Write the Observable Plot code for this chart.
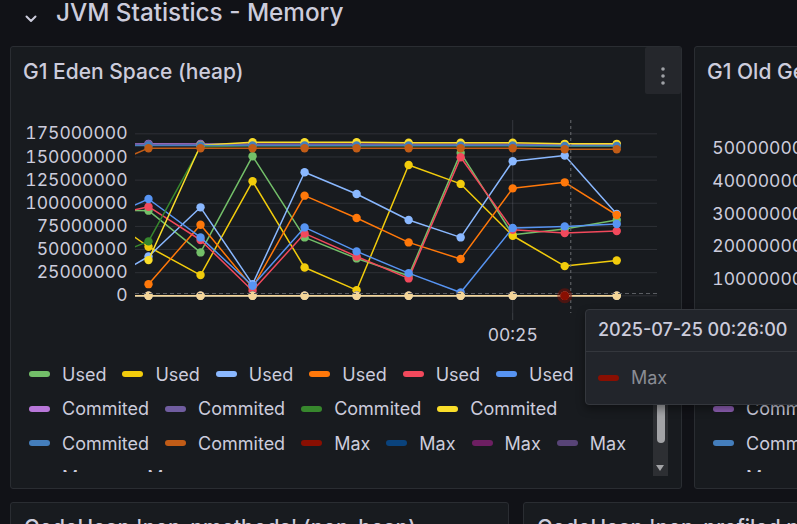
<!DOCTYPE html>
<html><head><meta charset="utf-8">
<script src="https://cdn.jsdelivr.net/npm/d3@7"></script>
<script src="https://cdn.jsdelivr.net/npm/@observablehq/plot@0.6"></script>
<style>
html,body{margin:0;padding:0;background:#111217;}
body{width:797px;height:524px;overflow:hidden;position:relative;font-family:Inter,"Noto Sans",sans-serif;color:#ccccdc;}
.abs{position:absolute;}
.abs svg{max-width:none !important;}
.panel{position:absolute;background:#181b1f;border:1px solid #2a2d32;border-radius:3px;box-sizing:border-box;}
.ptitle{position:absolute;font-size:21px;font-weight:500;line-height:24px;white-space:nowrap;color:#ccccdc;}
.legend{position:absolute;display:flex;flex-wrap:wrap;row-gap:10.5px;column-gap:16px;overflow:hidden;align-content:flex-start;}
.item{display:flex;align-items:center;height:24px;font-size:18px;white-space:nowrap;color:#ccccdc;}
.sw{width:21px;height:6px;border-radius:3px;margin-right:12px;flex:none;}
</style></head>
<body>
<script>
// ---------- data ----------
const day = "2025-07-25";
const minutes = ["00:17","00:18","00:19","00:20","00:21","00:22","00:23","00:24","00:25","00:26","00:27"];
const UNIT = 1e6; // values below are in millions of bytes

const usedGreen     = [93, 92, 46.9, 150.8, 63.1, 40.4, 21.6, 154.4, 66, 72.2, 81.9];
const usedYellow    = [92.3, 53, 22.4, 123.7, 30.6, 6.1, 141.4, 120.9, 64.9, 32.1, 38.2];
const usedLightBlue = [10, 42.5, 95.6, 12.6, 133.5, 110, 81.9, 63.1, 145.4, 151.5, 88.4];
const usedOrange    = [null, 12.6, 76.8, 9, 108.2, 84.1, 57.7, 39.7, 116.1, 122.6, 87.3];
const usedRed       = [83.7, 96.3, 60.3, 5.4, 67.4, 42.5, 18.8, 149.7, 71.4, 67.9, 70];
const usedBlue      = [79.4, 104.6, 63.1, 10.8, 73.9, 48, 24.5, 3.6, 73.2, 75, 77.6];

const commitLightPurple = [164, 164.2, 164, 163.8, 163.8, 163.8, 163.8, 163.8, 163.8, 163.2, 163.2];
const commitPurple      = [163.5, 163.8, 163.5, 163.3, 163.3, 163.3, 163.3, 163.3, 163.3, 162.8, 162.8];
const commitDarkGreen   = [36.5, 58.8, 161, 162, 162, 162, 162, 162, 162, 161.5, 161.5];
const commitYellow      = [null, 38.6, 162.7, 166, 166, 166, 165.3, 165.3, 165.3, 164.2, 164.2];
const commitBlue        = [162.5, 162.5, 162.5, 162.5, 162.5, 162.5, 162.5, 162.5, 162.5, 162, 162];
const commitBrown       = [135.6, 159.5, 159.5, 159.5, 159.5, 159.5, 159.5, 159.5, 159.5, 158.3, 158.3];

const max1 = [0,0,0,0,0,0,0,0,0,0,0];
const max2 = [0,0,0,0,0,0,0,0,0,0,0];
const max3 = [0,0,0,0,0,0,0,0,0,0,0];
const max4 = [0,0,0,0,0,0,0,0,0,0,0];
const max5 = [0,0,0,0,0,0,0,0,0,0,0];
const max6 = [0,0,0,0,0,0,0,0,0,0,0];

const seriesNames = ["Used","Used","Used","Used","Used","Used",
  "Commited","Commited","Commited","Commited","Commited","Commited",
  "Max","Max","Max","Max","Max","Max"];
const seriesValues = [usedGreen, usedYellow, usedLightBlue, usedOrange, usedRed, usedBlue,
  commitLightPurple, commitPurple, commitDarkGreen, commitYellow, commitBlue, commitBrown,
  max1, max2, max3, max4, max5, max6];
const seriesColors = ["#73BF69","#F2CC0C","#8AB8FF","#FF780A","#F2495C","#5794F2",
  "#B877D9","#705DA0","#37872D","#FADE2A","#447EBC","#C15C17",
  "#890F02","#0A437C","#6D1F62","#584477","#B7DBAB","#F4D598"];

const yTicks = [0, 25e6, 50e6, 75e6, 100e6, 125e6, 150e6, 175e6];
const xTickLabels = ["00:25"];
const viewFrom = "00:17:45", viewTo = "00:27:47";
const hoverSeries = 12, hoverIndex = 9 - 1; // 00:26
const cursorTime = "00:26:07", cursorValue = 2.5e6;

const oldGenTicks = [0, 100e6, 200e6, 300e6, 400e6, 500e6];
const oldGenLegend = [["#B877D9", "Commited"], ["#8e5fb4", "Commited"], ["#447EBC", "Commited"], ["#B7DBAB", "Max"]];

// ---------- build ----------
const parseM = d3.utcParse("%Y-%m-%d %H:%M");
const parseS = d3.utcParse("%Y-%m-%d %H:%M:%S");
const times = minutes.map(m => parseM(day + " " + m));
const rows = [];
seriesValues.forEach((vals, k) => vals.forEach((v, i) => rows.push({k, t: times[i], v: v == null ? null : v * UNIT})));

function el(tag, cls, style, text) {
  const e = document.createElement(tag);
  if (cls) e.className = cls;
  if (style) e.setAttribute("style", style);
  if (text != null) e.textContent = text;
  document.body.appendChild(e);
  return e;
}

// panels
el("div", "panel", "left:10px;top:46px;width:672px;height:443px;");
el("div", "panel", "left:694px;top:46px;width:200px;height:443px;");
el("div", "panel", "left:10px;top:502px;width:499px;height:100px;");
el("div", "panel", "left:523px;top:502px;width:300px;height:100px;");

// row header
const chev = el("div", "abs", "left:25px;top:8px;width:12px;height:9px;");
chev.innerHTML = '<svg width="12" height="9"><polyline points="1.5,1.5 6,6 10.5,1.5" fill="none" stroke="#ccccdc" stroke-width="2" stroke-linecap="round" stroke-linejoin="round"/></svg>';
el("div", "abs", "left:56px;top:-2px;font-size:24.3px;font-weight:500;line-height:28px;white-space:nowrap;color:#ccccdc;", "JVM Statistics - Memory");

// titles
el("div", "ptitle", "left:23px;top:60px;", "G1 Eden Space (heap)");
el("div", "ptitle", "left:707px;top:60px;", "G1 Old Gen (heap)");
el("div", "ptitle", "left:24px;top:516px;", "CodeHeap 'non-nmethods' (non-heap)");
el("div", "ptitle", "left:537px;top:516px;", "CodeHeap 'non-profiled nmethods' (non-heap)");

// menu button
const mb = el("div", "abs", "left:645px;top:47px;width:36px;height:47px;background:#25272c;border-radius:2px;");
mb.innerHTML = '<svg width="36" height="47"><circle cx="18" cy="22" r="1.8" fill="#9fa1a6"/><circle cx="18" cy="29" r="1.8" fill="#9fa1a6"/><circle cx="18" cy="36" r="1.8" fill="#9fa1a6"/></svg>';

// main chart
const xTicks = xTickLabels.map(m => parseM(day + " " + m));
const marks = [
  Plot.gridY(yTicks, {stroke: "#ccccdc", strokeOpacity: 0.12}),
  Plot.gridX(xTicks, {stroke: "#ccccdc", strokeOpacity: 0.16}),
  Plot.axisY(yTicks, {tickSize: 0, tickPadding: 8, tickFormat: d3.format("d"), fill: "#ccccdc", fontSize: 17.5, label: null}),
  Plot.axisX(xTicks, {tickSize: 7, tickPadding: 8, tickFormat: d3.utcFormat("%H:%M"), stroke: "#3d4045", fill: "#ccccdc", fontSize: 17.5, label: null})
];
seriesValues.forEach((_, k) => {
  const d = rows.filter(r => r.k === k);
  marks.push(Plot.lineY(d, {x: "t", y: "v", stroke: "k", strokeWidth: 1.5, clip: true}));
  marks.push(Plot.dot(d, {x: "t", y: "v", fill: "k", r: 4.2, clip: true}));
});
const cursor = {t: parseS(day + " " + cursorTime), v: cursorValue};
marks.push(Plot.ruleX([cursor], {x: "t", stroke: "#6a6d72", strokeDasharray: "3,3"}));
marks.push(Plot.ruleY([cursor], {y: "v", stroke: "#5a5d62", strokeDasharray: "4,3"}));
const hover = rows.filter(r => r.k === hoverSeries)[hoverIndex + 1];
marks.push(Plot.dot([hover], {x: "t", y: "v", fill: "k", r: 7.5, fillOpacity: 0.45}));
marks.push(Plot.dot([hover], {x: "t", y: "v", fill: "k", r: 4.5}));

const chart = Plot.plot({
  width: 680, height: 240,
  marginLeft: 135, marginRight: 23, marginTop: 10, marginBottom: 37,
  x: {type: "utc", domain: [parseS(day + " " + viewFrom), parseS(day + " " + viewTo)]},
  y: {domain: [-19.1e6, 189.4e6]},
  color: {type: "ordinal", domain: d3.range(seriesValues.length), range: seriesColors},
  style: {background: "transparent", color: "#ccccdc", fontFamily: "Inter", fontSize: "17.5px", overflow: "visible", maxWidth: "none"},
  marks
});
const holder = el("div", "abs", "left:0px;top:110px;width:680px;height:240px;");
holder.appendChild(chart);

// legend
const lg = el("div", "legend", "left:29px;top:362px;width:625px;height:110px;");
seriesNames.forEach((n, k) => {
  const it = document.createElement("div");
  it.className = "item";
  it.innerHTML = '<span class="sw" style="background:' + seriesColors[k] + '"></span><span>' + n + '</span>';
  lg.appendChild(it);
});

// scrollbar
el("div", "abs", "left:653px;top:360px;width:15px;height:116px;background:#2d2f33;");
el("div", "abs", "left:657px;top:380px;width:8px;height:63px;background:#a2a3a6;border-radius:4px;");
el("div", "abs", "left:656px;top:465px;width:0;height:0;border-left:4.5px solid transparent;border-right:4.5px solid transparent;border-top:6px solid #a2a3a6;");

// second panel axis
const oldChart = Plot.plot({
  width: 200, height: 240,
  marginLeft: 128, marginRight: 0, marginTop: 10, marginBottom: 37,
  y: {domain: [-3.8e6, 585.5e6]},
  style: {background: "transparent", color: "#ccccdc", fontFamily: "Inter", fontSize: "17.5px", overflow: "visible", maxWidth: "none"},
  marks: [Plot.axisY(oldGenTicks, {tickSize: 0, tickPadding: 8, tickFormat: d3.format("d"), fill: "#ccccdc", fontSize: 17.5, label: null})]
});
const holder2 = el("div", "abs", "left:694px;top:110px;width:200px;height:240px;");
holder2.appendChild(oldChart);

// second panel legend (partially visible)
const lg2 = el("div", "abs", "left:713px;top:362px;width:200px;height:110px;overflow:hidden;");
oldGenLegend.forEach(([c, n], j) => {
  const it = document.createElement("div");
  it.className = "item";
  it.setAttribute("style", "position:absolute;left:0;top:" + (j * 34.5) + "px;");
  it.innerHTML = '<span class="sw" style="background:' + c + '"></span><span>' + n + '</span>';
  lg2.appendChild(it);
});

// tooltip
el("div", "abs", "left:585px;top:309px;width:240px;height:96px;background:#22252b;border:1px solid #34373d;border-radius:4px;box-sizing:border-box;box-shadow:0 4px 8px rgba(0,0,0,0.4);");
const hoverTime = times[hoverIndex + 1];
el("div", "abs", "left:598px;top:318px;font-size:18px;font-weight:500;line-height:24px;white-space:nowrap;color:#ccccdc;", d3.utcFormat("%Y-%m-%d %H:%M:%S")(hoverTime));
el("div", "abs", "left:586px;top:351px;width:230px;height:1px;background:#34373d;");
el("div", "abs", "left:598px;top:375px;width:21px;height:6px;border-radius:3px;background:" + seriesColors[hoverSeries] + ";");
el("div", "abs", "left:631px;top:366px;font-size:18px;line-height:24px;white-space:nowrap;color:#8a8c94;", seriesNames[hoverSeries]);
</script>
</body></html>
